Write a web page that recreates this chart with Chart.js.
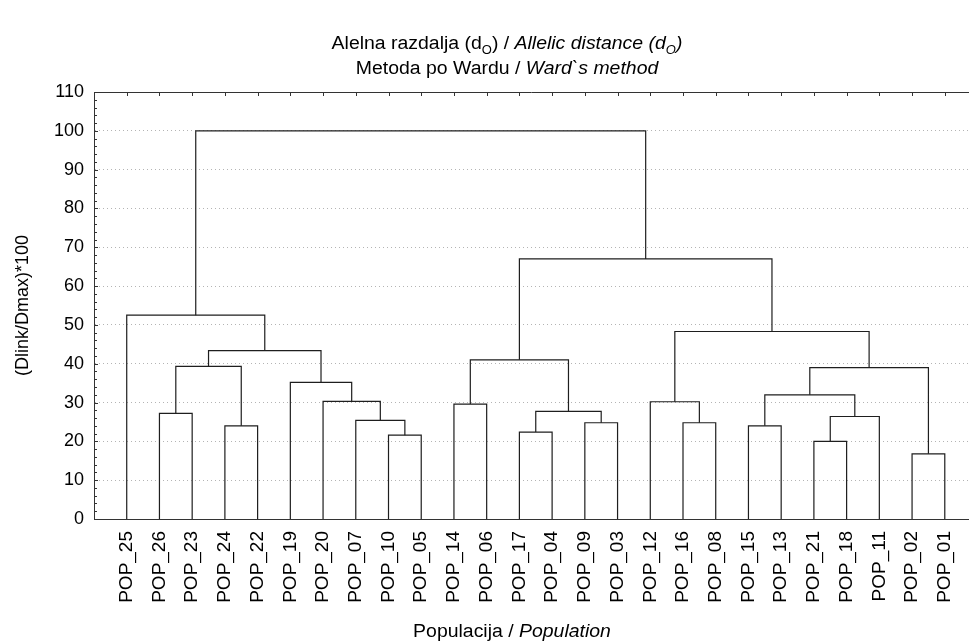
<!DOCTYPE html>
<html>
<head>
<meta charset="utf-8">
<script src="https://cdn.jsdelivr.net/npm/chart.js@4.4.1/dist/chart.umd.min.js"></script>
<style>
  html, body { margin: 0; padding: 0; background: #fff; }
  #wrap { width: 969px; height: 641px; position: relative; }
</style>
</head>
<body>
<div id="wrap"><canvas id="chart"></canvas></div>
<script>
// leaf order along the x axis
const leafLabels = [
  "POP_25", "POP_26", "POP_23", "POP_24", "POP_22", "POP_19", "POP_20", "POP_07", "POP_10",
  "POP_05", "POP_14", "POP_06", "POP_17", "POP_04", "POP_09", "POP_03", "POP_12", "POP_16",
  "POP_08", "POP_15", "POP_13", "POP_21", "POP_18", "POP_11", "POP_02", "POP_01"
];

// Ward linkage: cluster id, its two children (leaf or cluster) and the height
const mergeIds = [
  "c1", "c2", "c3", "c4", "c5", "c6", "c7", "c8", "c9", "c10", "c11", "c12", "c13",
  "c14", "c15", "c16", "c17", "c18", "c19", "c20", "c21", "c22", "c23", "c24", "c25"
];
const mergeLeft = [
  "POP_02", "POP_21", "POP_10", "POP_17", "POP_24", "POP_15", "POP_09", "POP_16", "POP_07",
  "c2", "POP_26", "c4", "POP_14", "POP_12", "POP_20", "c6", "POP_19", "c16", "c11", "c13",
  "c19", "c14", "POP_25", "c20", "c23"
];
const mergeRight = [
  "POP_01", "POP_18", "POP_05", "POP_04", "POP_22", "POP_13", "POP_03", "POP_08", "c3",
  "POP_11", "POP_23", "c7", "POP_06", "c8", "c9", "c10", "c15", "c1", "c5", "c12",
  "c17", "c18", "c21", "c22", "c24"
];
const mergeHeight = [
  16.8, 20.0, 21.6, 22.4, 24.0, 24.0, 24.8, 24.8, 25.4, 26.4, 27.2, 27.7, 29.6,
  30.2, 30.3, 32.0, 35.2, 39.0, 39.3, 41.0, 43.4, 48.3, 52.5, 67.0, 100.0
];

const yTicks = [0, 10, 20, 30, 40, 50, 60, 70, 80, 90, 100, 110];
const yTitle = "(Dlink/Dmax)*100";

const titleLine1 = [
  { text: "Alelna razdalja (d" }, { text: "O", sub: true }, { text: ") / " },
  { text: "Allelic distance (d", italic: true }, { text: "O", italic: true, sub: true },
  { text: ")", italic: true }
];
const titleLine2 = [
  { text: "Metoda po Wardu / " }, { text: "Ward`s method", italic: true }
];
const xTitle = [
  { text: "Populacija / " }, { text: "Population", italic: true }
];

const FONT = "'Liberation Sans', Arial, Helvetica, sans-serif";
const LINE_COLOR = "#1e1e1e";

function buildDendrogram() {
  const nodes = {};
  leafLabels.forEach((label, i) => {
    nodes[label] = { x: i + 1, y: 0 };
  });
  const sets = [];
  mergeIds.forEach((id, i) => {
    const a = nodes[mergeLeft[i]];
    const b = nodes[mergeRight[i]];
    const h = mergeHeight[i];
    nodes[id] = { x: (a.x + b.x) / 2, y: h };
    sets.push({
      data: [{ x: a.x, y: a.y }, { x: a.x, y: h }, { x: b.x, y: h }, { x: b.x, y: b.y }],
      borderColor: LINE_COLOR,
      borderWidth: 1.2,
      pointRadius: 0,
      tension: 0,
      fill: false
    });
  });
  return sets;
}

function fontString(size, italic) {
  return `${italic ? "italic " : ""}${size}px ${FONT}`;
}

// text with italic / subscript parts, slightly widened like the original export
function drawRich(ctx, parts, cx, y, size, stretch) {
  const subSize = Math.round(size * 0.68);
  let total = 0;
  parts.forEach((p) => {
    ctx.font = fontString(p.sub ? subSize : size, p.italic);
    p.w = ctx.measureText(p.text).width;
    total += p.w;
  });
  ctx.save();
  ctx.translate(cx, y);
  ctx.scale(stretch, 1);
  let x = -total / 2;
  ctx.textAlign = "left";
  ctx.textBaseline = "alphabetic";
  ctx.fillStyle = "#000";
  parts.forEach((p) => {
    ctx.font = fontString(p.sub ? subSize : size, p.italic);
    ctx.fillText(p.text, x, p.sub ? 5 : 0);
    x += p.w;
  });
  ctx.restore();
}

const framePlugin = {
  id: "frame",
  afterDraw(chart) {
    const ctx = chart.ctx;
    const area = chart.chartArea;
    const xs = chart.scales.x;
    const ys = chart.scales.y;
    ctx.save();
    ctx.strokeStyle = "#333";
    ctx.lineWidth = 1;

    // top frame with leaf ticks
    ctx.beginPath();
    ctx.moveTo(area.left, area.top + 0.5);
    ctx.lineTo(area.right, area.top + 0.5);
    leafLabels.forEach((_, i) => {
      const px = Math.round(xs.getPixelForValue(i + 1)) + 0.5;
      ctx.moveTo(px, area.top);
      ctx.lineTo(px, area.top + 4);
    });
    // inward y ticks, minor every 2
    for (let v = 0; v <= 110; v += 2) {
      const py = Math.round(ys.getPixelForValue(v)) + 0.5;
      ctx.moveTo(area.left, py);
      ctx.lineTo(area.left + (v % 10 === 0 ? 4 : 3), py);
    }
    ctx.stroke();

    drawRich(ctx, titleLine1, 507, 49, 18, 1.08);
    drawRich(ctx, titleLine2, 507, 74, 18, 1.08);
    drawRich(ctx, xTitle, 512, 637, 18, 1.08);
    ctx.restore();
  }
};

Chart.defaults.font.family = FONT;
Chart.defaults.color = "#000";

const chart = new Chart(document.getElementById("chart"), {
  type: "line",
  data: { datasets: buildDendrogram() },
  options: {
    responsive: true,
    maintainAspectRatio: false,
    animation: false,
    layout: { padding: { top: 92, right: 0, bottom: 0, left: 0 } },
    plugins: {
      legend: { display: false },
      tooltip: { enabled: false }
    },
    scales: {
      x: {
        type: "linear",
        min: 0,
        max: 26.74,
        afterBuildTicks: (scale) => {
          scale.ticks = leafLabels.map((_, i) => ({ value: i + 1 }));
        },
        afterFit: (scale) => {
          scale.height = 122;
          scale.paddingRight = 0;
        },
        ticks: {
          autoSkip: false,
          minRotation: 90,
          maxRotation: 90,
          padding: 12,
          font: { size: 19 },
          callback: (value) => leafLabels[value - 1] || ""
        },
        grid: { display: false, drawTicks: false },
        border: { display: true, color: "#333", width: 1 }
      },
      y: {
        min: 0,
        max: 110,
        afterBuildTicks: (scale) => {
          scale.ticks = yTicks.map((v) => ({ value: v }));
        },
        afterFit: (scale) => {
          scale.width = 94;
        },
        ticks: {
          padding: 10,
          font: { size: 18 }
        },
        grid: {
          drawTicks: false,
          lineWidth: 1,
          color: (ctx) => (ctx.tick && (ctx.tick.value === 0 || ctx.tick.value === 110)) ? "rgba(0,0,0,0)" : "#b4b4b4"
        },
        border: { display: true, color: "#333", width: 1, dash: [1, 3] },
        title: {
          display: true,
          text: yTitle,
          font: { size: 18 },
          padding: { top: 12, bottom: 0 }
        }
      }
    }
  },
  plugins: [framePlugin]
});
</script>
</body>
</html>
